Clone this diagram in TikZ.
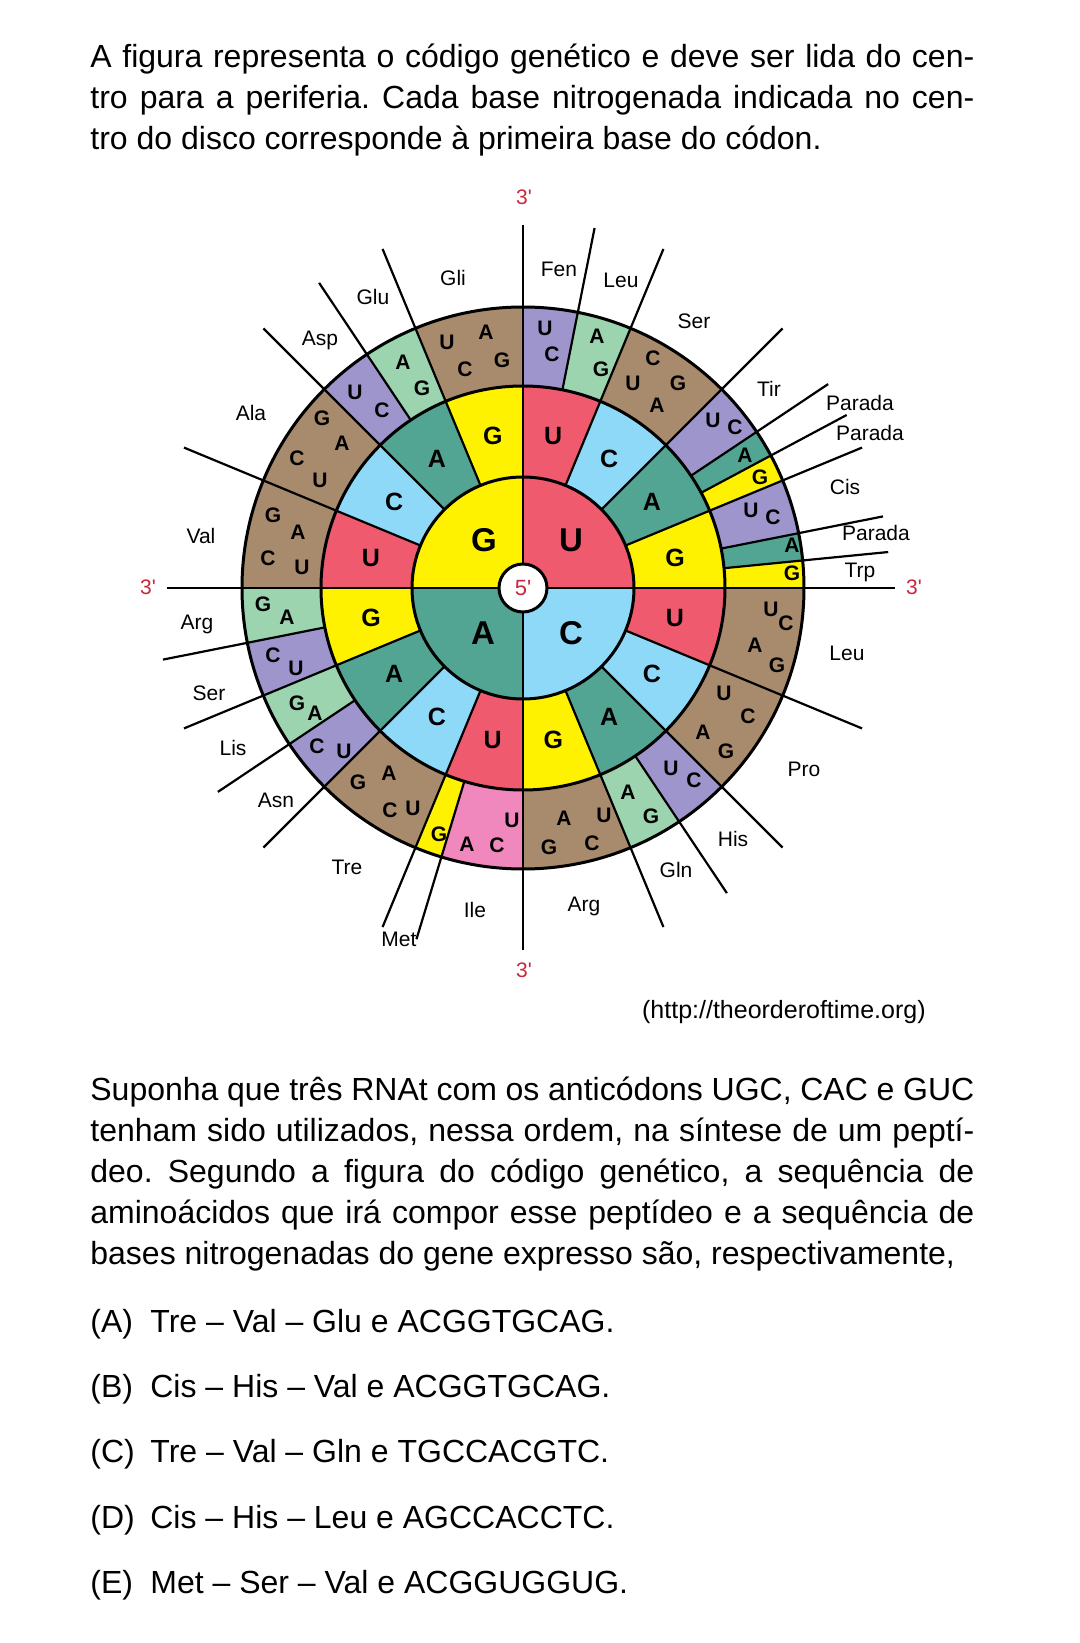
\documentclass[tikz,border=0pt]{standalone}
\usepackage{fontspec}
\setmainfont{Liberation Sans}
\usepackage{xcolor}
\definecolor{baseU}{HTML}{EF5A6E}
\definecolor{baseC}{HTML}{8ED8F8}
\definecolor{baseA}{HTML}{52A593}
\definecolor{baseG}{HTML}{FFF200}
\definecolor{fourfold}{HTML}{A88A6C}
\definecolor{pairUC}{HTML}{9D95CC}
\definecolor{pairAG}{HTML}{9BD4AE}
\definecolor{triple}{HTML}{F087BD}
\definecolor{primered}{HTML}{C8283C}
\newcommand{\paratext}[1]{\parbox[t]{442pt}{\frenchspacing\hyphenpenalty=10000 \tolerance=10000
  \spaceskip=0.278em plus 0.6em minus 0.12em \vrule height 16pt depth 0pt width 0pt #1}}

\begin{document}
\begin{tikzpicture}[x=0.5pt, y=0.5pt,
    divider/.style={line width=1.1pt},
    ring/.style={line width=1.5pt},
    firstbase/.style={font=\fontsize{16.5}{18}\selectfont\bfseries, inner sep=0pt},
    secondbase/.style={font=\fontsize{12.5}{14}\selectfont\bfseries, inner sep=0pt},
    thirdbase/.style={font=\fontsize{10.5}{12}\selectfont\bfseries, inner sep=0pt, text height=7.5pt, text depth=0pt},
    amino/.style={font=\fontsize{10.5}{12}\selectfont, inner sep=0pt, text height=7.5pt, text depth=0pt},
    primelbl/.style={font=\fontsize{10.5}{12}\selectfont, text=primered, inner sep=0pt},
    para/.style={font=\fontsize{16}{20.5}\selectfont, inner sep=0pt, anchor=north west},
    answer/.style={font=\fontsize{16}{20.5}\selectfont, inner sep=0pt, anchor=base west}
  ]
  \useasboundingbox (-523,-1055) rectangle (557,588);

  \node[para] (intro) at (-433,553) {\paratext{A figura representa o código genético e deve ser lida do cen-\linebreak
    tro para a periferia. Cada base nitrogenada indicada no cen-\linebreak
    tro do disco corresponde à primeira base do códon.}};

  % third base ring
  \foreach \a/\b/\c in {0/2/pairUC, 2/4/pairAG, 4/8/fourfold, 8/10/pairUC, 10/11/baseA, 11/12/baseG, 12/14/pairUC, 14/15/baseA, 15/16/baseG,
      16/20/fourfold, 20/24/fourfold, 24/26/pairUC, 26/28/pairAG, 28/32/fourfold,
      32/35/triple, 35/36/baseG, 36/40/fourfold, 40/42/pairUC, 42/44/pairAG, 44/46/pairUC, 46/48/pairAG,
      48/52/fourfold, 52/56/fourfold, 56/58/pairUC, 58/60/pairAG, 60/64/fourfold} {
    \fill[\c] (0,0) -- ({90-5.625*\a}:281) arc[start angle={90-5.625*\a}, end angle={90-5.625*\b}, radius=281] -- cycle;
  }
  % second base ring
  \foreach \i in {0,...,3} {
    \foreach \j/\c in {0/baseU, 1/baseC, 2/baseA, 3/baseG} {
      \pgfmathsetmacro{\s}{90-90*\i-22.5*\j}
      \fill[\c] (0,0) -- (\s:202) arc[start angle=\s, end angle=\s-22.5, radius=202] -- cycle;
    }
  }
  % first base disc
  \foreach \i/\c in {0/baseU, 1/baseC, 2/baseA, 3/baseG}
    \fill[\c] (0,0) -- ({90-90*\i}:111) arc[start angle={90-90*\i}, end angle={-90*\i}, radius=111] -- cycle;

  \coordinate (hub) at (0,0);
  \coordinate (endN) at (0,363);
  \coordinate (endE) at (372,0);
  \coordinate (endS) at (0,-362);
  \coordinate (endW) at (-356,0);
  \foreach \e in {endN, endE, endS, endW}
    \draw[divider] (hub) -- (\e);
  \foreach \n in {4,8,12,20,24,28,36,40,44,52,56,60}
    \draw[divider] ({90-5.625*\n}:111) -- ({90-5.625*\n}:367);
  \foreach \n in {2,10,11,14,15,26,35,42,46,58}
    \draw[divider] ({90-5.625*\n}:202) -- ({90-5.625*\n}:367);
  \draw[ring] (hub) circle[radius=281] (hub) circle[radius=202] (hub) circle[radius=111];

  \node[circle, draw, ring, fill=white, minimum size=24pt, inner sep=0pt,
    font=\fontsize{11}{12}\selectfont, text=primered] (five) at (hub) {5\textquotesingle};

  \foreach \x/\y/\t [count=\n] in {48/48/U, 48/-45/C, -40/-45/A, -39/48/G}
    \node[firstbase] (first\n) at (\x,\y) {\t};
  \foreach \i in {0,...,3} {
    \foreach \j/\t in {0/U, 1/C, 2/A, 3/G}
      \node[secondbase] (second\i\j) at ({78.75-90*\i-22.5*\j}:155) {\t};
  }
  \foreach \x/\y/\t [count=\n] in {
      22/260/U, 29/234/C, 74/252/A, 78/219/G,
      110/205/U, 130/230/C, 134/183/A, 155/205/G,
      190/168/U, 212/161/C, 222/133/A, 237/111/G,
      228/78/U, 250/71/C, 269/43/A, 269/15/G,
      248/-21/U, 263/-35/C, 232/-57/A, 254/-77/G,
      201/-105/U, 225/-128/C, 180/-144/A, 203/-163/G,
      148/-180/U, 171/-192/C, 105/-204/A, 128/-228/G,
      81/-227/U, 69/-255/C, 41/-230/A, 26/-259/G,
      -11/-232/U, -26/-257/C, -56/-256/A, -84/-246/G,
      -110/-220/U, -133/-222/C, -134/-185/A, -165/-194/G,
      -179/-163/U, -206/-158/C, -208/-125/A, -226/-115/G,
      -227/-80/U, -250/-67/C, -236/-29/A, -260/-16/G,
      -221/21/U, -255/30/C, -225/56/A, -250/73/G,
      -203/108/U, -226/130/C, -181/145/A, -201/170/G,
      -168/196/U, -141/178/C, -120/226/A, -101/200/G,
      -76/246/U, -58/219/C, -37/256/A, -21/228/G}
    \node[thirdbase] (third\n) at (\x,\y) {\t};

  \foreach \x/\y/\t [count=\n] in {
      36/319/Fen, 98/308/Leu, 171/267/Ser, 246/199/Tir, 337/185/Parada, 347/155/Parada,
      322/101/Cis, 353/55/Parada, 337/18/Trp, 324/-65/Leu, 281/-181/Pro, 210/-251/His,
      153/-282/Gln, 61/-316/Arg, -48/-322/Ile, -124/-351/Met, -176/-279/Tre, -247/-212/Asn,
      -290/-160/Lis, -314/-105/Ser, -326/-34/Arg, -322/52/Val, -272/175/Ala, -203/250/Asp,
      -150/291/Glu, -70/310/Gli}
    \node[amino] (aa\n) at (\x,\y) {\t};

  \node[primelbl] (threeN) at (1,391) {3\textquotesingle};
  \node[primelbl] (threeE) at (391,1) {3\textquotesingle};
  \node[primelbl] (threeS) at (1,-382) {3\textquotesingle};
  \node[primelbl] (threeW) at (-375,1) {3\textquotesingle};

  \node[font=\fontsize{12.5}{14}\selectfont, inner sep=0pt, anchor=base east] (source) at (403,-430) {(http://theorderoftime.org)};

  \node[para] (question) at (-433,-480) {\paratext{Suponha que três RNAt com os anticódons UGC, CAC e GUC\linebreak
    tenham sido utilizados, nessa ordem, na síntese de um peptí-\linebreak
    deo. Segundo a figura do código genético, a sequência de\linebreak
    aminoácidos que irá compor esse peptídeo e a sequência de\linebreak
    bases nitrogenadas do gene expresso são, respectivamente,}};

  \foreach \l/\t [count=\n from 0] in {
      A/Tre – Val – Glu e ACGGTGCAG.,
      B/Cis – His – Val e ACGGTGCAG.,
      C/Tre – Val – Gln e TGCCACGTC.,
      D/Cis – His – Leu e AGCCACCTC.,
      E/Met – Ser – Val e ACGGUGGUG.}
    \node[answer] (opt\l) at (-433,{-744-65.4*\n}) {\makebox[30pt][l]{(\l)}\t};
\end{tikzpicture}
\end{document}
